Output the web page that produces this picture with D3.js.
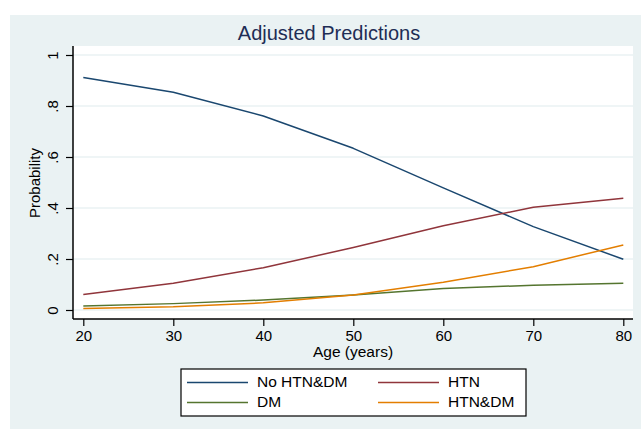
<!DOCTYPE html>
<html>
<head>
<meta charset="utf-8">
<script src="https://cdn.jsdelivr.net/npm/d3@7"></script>
<style>
  html, body { margin: 0; padding: 0; background: #ffffff; }
  svg { display: block; }
  text { font-family: "Liberation Sans", Arial, sans-serif; }
</style>
</head>
<body>
<svg id="chart" width="641" height="429"></svg>
<script>
// Ages at which the margins were evaluated
const ages = [20, 30, 40, 50, 60, 70, 80];

// Predicted probability for each outcome group
const noHtnDm = [0.912, 0.854, 0.761, 0.634, 0.479, 0.327, 0.199];
const htn     = [0.061, 0.105, 0.166, 0.245, 0.330, 0.403, 0.438];
const dm      = [0.016, 0.025, 0.039, 0.059, 0.084, 0.097, 0.105];
const htnDm   = [0.006, 0.013, 0.028, 0.059, 0.109, 0.170, 0.255];

const seriesNames = ["No HTN&DM", "HTN", "DM", "HTN&DM"];
const seriesValues = [noHtnDm, htn, dm, htnDm];
const seriesColors = ["#1a476f", "#90353b", "#55752f", "#e37e00"];

const yTicks = [0, 0.2, 0.4, 0.6, 0.8, 1];
const yTickLabels = ["0", ".2", ".4", ".6", ".8", "1"];
const xTicks = [20, 30, 40, 50, 60, 70, 80];

const titleText = "Adjusted Predictions";
const xTitle = "Age (years)";
const yTitle = "Probability";

const svg = d3.select("#chart");

// Graph region and plot region
svg.append("rect").attr("x", 10).attr("y", 15).attr("width", 631).attr("height", 414)
  .attr("fill", "#eaf2f3");
const plot = { left: 73, right: 633, top: 46, bottom: 319 };
svg.append("rect").attr("x", plot.left).attr("y", plot.top)
  .attr("width", plot.right - plot.left).attr("height", plot.bottom - plot.top)
  .attr("fill", "#ffffff");

const x = d3.scaleLinear().domain([20, 80]).range([83.3, 623.3]);
const y = d3.scaleLinear().domain([0, 1]).range([310, 55]);

// Horizontal grid lines
svg.append("g").selectAll("line").data(yTicks).join("line")
  .attr("x1", plot.left).attr("x2", plot.right)
  .attr("y1", d => y(d)).attr("y2", d => y(d))
  .attr("stroke", "#eaf2f3").attr("stroke-width", 1.5);

// Series lines
const line = d3.line().x(d => x(d[0])).y(d => y(d[1]));
svg.append("g").selectAll("path").data(seriesValues).join("path")
  .attr("d", vals => line(ages.map((a, i) => [a, vals[i]])))
  .attr("fill", "none")
  .attr("stroke", (d, i) => seriesColors[i])
  .attr("stroke-width", 1.5)
  .attr("stroke-linejoin", "round");

// Y axis (labels rotated, Stata style)
const yAxis = d3.axisLeft(y).tickValues(yTicks)
  .tickFormat((d, i) => yTickLabels[i]).tickSize(7).tickPadding(0);
const gy = svg.append("g").attr("transform", `translate(${plot.left},0)`).call(yAxis);
gy.select(".domain").attr("d", `M0,${plot.top}V${plot.bottom}`)
  .attr("stroke", "#000").attr("stroke-width", 1.5);
gy.selectAll(".tick line").attr("stroke", "#000").attr("stroke-width", 1.2);
gy.selectAll(".tick text")
  .attr("x", 0).attr("dy", null)
  .attr("transform", "translate(-15,0) rotate(-90)")
  .attr("text-anchor", "middle")
  .attr("font-size", 15).attr("fill", "#000")
  .style("font-family", "'Liberation Sans', Arial, sans-serif");

// X axis
const xAxis = d3.axisBottom(x).tickValues(xTicks).tickFormat(d3.format("d"))
  .tickSize(7).tickPadding(3);
const gx = svg.append("g").attr("transform", `translate(0,${plot.bottom})`).call(xAxis);
gx.select(".domain").attr("d", `M${plot.left},0H${plot.right}`)
  .attr("stroke", "#000").attr("stroke-width", 1.5);
gx.selectAll(".tick line").attr("stroke", "#000").attr("stroke-width", 1.2);
gx.selectAll(".tick text")
  .attr("dy", null).attr("y", 22)
  .attr("font-size", 15).attr("fill", "#000")
  .style("font-family", "'Liberation Sans', Arial, sans-serif");

// Titles
svg.append("text").attr("x", 329).attr("y", 40).attr("text-anchor", "middle")
  .attr("font-size", 20).attr("fill", "#1e2d55").text(titleText);
svg.append("text").attr("x", 353).attr("y", 357).attr("text-anchor", "middle")
  .attr("font-size", 15.5).attr("fill", "#000").text(xTitle);
svg.append("text").attr("transform", "translate(40,183) rotate(-90)")
  .attr("text-anchor", "middle").attr("font-size", 15).attr("fill", "#000").text(yTitle);

// Legend
const legend = svg.append("g");
legend.append("rect").attr("x", 181).attr("y", 369).attr("width", 345).attr("height", 47)
  .attr("fill", "#ffffff").attr("stroke", "#000").attr("stroke-width", 1.2);
const legendPos = [
  { lx: 187, ly: 382.5 }, { lx: 378, ly: 382.5 },
  { lx: 187, ly: 402.5 }, { lx: 378, ly: 402.5 }
];
seriesNames.forEach((name, i) => {
  const p = legendPos[i];
  legend.append("line").attr("x1", p.lx).attr("x2", p.lx + 61)
    .attr("y1", p.ly).attr("y2", p.ly)
    .attr("stroke", seriesColors[i]).attr("stroke-width", 1.5);
  legend.append("text").attr("x", p.lx + 70).attr("y", p.ly + 4)
    .attr("font-size", 15.5).attr("fill", "#000").text(name);
});
</script>
</body>
</html>
